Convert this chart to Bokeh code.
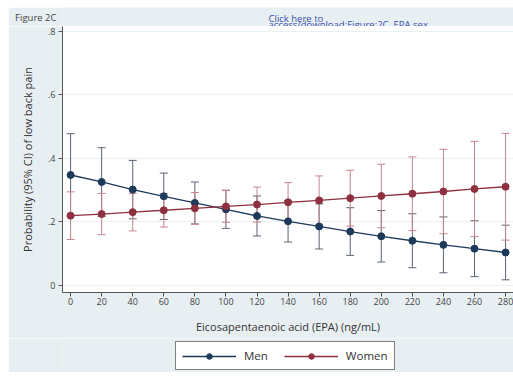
from bokeh.plotting import figure
from bokeh.layouts import column
from bokeh.models import (ColumnDataSource, Whisker, TeeHead, Legend, LegendItem,
                          FixedTicker, Range1d)
from bokeh.core.properties import value
from bokeh.embed import file_html
from bokeh.resources import INLINE

# ---- data ----
epa = [0, 20, 40, 60, 80, 100, 120, 140, 160, 180, 200, 220, 240, 260, 280]
men = [0.348, 0.326, 0.302, 0.281, 0.260, 0.240, 0.219, 0.202, 0.186, 0.170,
       0.155, 0.141, 0.128, 0.116, 0.104]
men_half_ci = [0.130, 0.108, 0.092, 0.073, 0.066, 0.060, 0.063, 0.065, 0.071,
               0.075, 0.081, 0.085, 0.088, 0.088, 0.086]
women = [0.220, 0.225, 0.231, 0.237, 0.243, 0.249, 0.255, 0.262, 0.268, 0.275,
         0.282, 0.289, 0.296, 0.304, 0.311]
women_half_ci = [0.075, 0.065, 0.059, 0.053, 0.050, 0.050, 0.055, 0.062, 0.077,
                 0.088, 0.100, 0.116, 0.133, 0.150, 0.168]
y_ticks = [0, 0.2, 0.4, 0.6, 0.8]
y_tick_labels = ["0", ".2", ".4", ".6", ".8"]
series_names = ["Men", "Women"]
figure_label = "Figure 2C"
link_texts = ["Click here to", "access/download;Figure;2C. EPA sex"]

FONT = "Open Sans"
BG = "#e8eff2"
MEN_C = "#1d3a5a"
WOMEN_C = "#8f3040"
MEN_CI_C = "#5b6473"
WOMEN_CI_C = "#c7848f"
BLUE = "#3d4fb0"


def strip(height, y_range):
    f = figure(width=505, height=height, output_backend="svg", toolbar_location=None,
               x_range=Range1d(0, 451), y_range=y_range,
               x_axis_location=None, min_border=0)
    f.grid.grid_line_color = None
    f.outline_line_color = None
    f.background_fill_color = BG
    f.border_fill_color = BG
    return f


# ---- header strip (caption texts) ----
hdr = strip(19, Range1d(0, 19))
# "Figure 2C" sits left of the plot frame: shown as the strip's single y tick label
hdr.yaxis.ticker = FixedTicker(ticks=[9.5])
hdr.yaxis.major_label_overrides = {9.5: figure_label}
hdr.yaxis.axis_line_color = None
hdr.yaxis.major_tick_line_color = None
hdr.yaxis.minor_tick_line_color = None
hdr.yaxis.major_label_standoff = 0
hdr.yaxis.major_label_text_font = FONT
hdr.yaxis.major_label_text_font_size = "9.5px"
hdr.yaxis.major_label_text_color = "#444444"
hdr_src = ColumnDataSource(dict(x=[206, 206], y=[8.0, 1.8], t=link_texts))
hdr.text("x", "y", text="t", source=hdr_src, text_color=BLUE,
         text_baseline="alphabetic",
         text_font=value(FONT), text_font_size="9.5px")

# ---- main chart ----
p = figure(width=505, height=312, output_backend="svg", toolbar_location=None,
           x_range=Range1d(-5.2, 285.1), y_range=Range1d(-0.022, 0.8156),
           min_border_left=54, min_border_right=0, min_border_top=0,
           min_border_bottom=46)
p.background_fill_color = "white"
p.border_fill_color = BG
p.outline_line_color = None

p.xgrid.grid_line_color = None
p.ygrid.grid_line_color = "#eaf0f2"
p.ygrid.grid_line_width = 1

p.xaxis.ticker = FixedTicker(ticks=epa)
p.yaxis.ticker = FixedTicker(ticks=y_ticks)
p.yaxis.major_label_overrides = {t: l for t, l in zip(y_ticks, y_tick_labels)}
for ax in (p.xaxis[0], p.yaxis[0]):
    ax.axis_line_color = "#555555"
    ax.major_tick_line_color = "#555555"
    ax.major_tick_out = 4
    ax.major_tick_in = 0
    ax.minor_tick_line_color = None
    ax.major_label_text_font = FONT
    ax.major_label_text_font_size = "9px"
    ax.major_label_text_color = "#444444"
    ax.axis_label_text_font = FONT
    ax.axis_label_text_font_size = "11px"
    ax.axis_label_text_font_style = "normal"
    ax.axis_label_text_color = "#333333"
p.xaxis.axis_label = "Eicosapentaenoic acid (EPA) (ng/mL)"
p.yaxis.axis_label = "Probability (95% CI) of low back pain"
p.xaxis.major_label_standoff = 1
p.yaxis.major_label_standoff = 3
p.xaxis.axis_label_standoff = 11
p.yaxis.axis_label_standoff = 10

src_m = ColumnDataSource(dict(x=epa, y=men,
                              lo=[v - h for v, h in zip(men, men_half_ci)],
                              hi=[v + h for v, h in zip(men, men_half_ci)]))
src_w = ColumnDataSource(dict(x=epa, y=women,
                              lo=[v - h for v, h in zip(women, women_half_ci)],
                              hi=[v + h for v, h in zip(women, women_half_ci)]))

for src, c in ((src_m, MEN_CI_C), (src_w, WOMEN_CI_C)):
    w = Whisker(source=src, base="x", lower="lo", upper="hi",
                line_color=c, line_width=1,
                upper_head=TeeHead(size=8, line_color=c, line_width=1),
                lower_head=TeeHead(size=8, line_color=c, line_width=1))
    p.add_layout(w)

p.line("x", "y", source=src_m, line_color=MEN_C, line_width=1.3)
p.scatter("x", "y", source=src_m, size=7, fill_color=MEN_C, line_color=MEN_C)
p.line("x", "y", source=src_w, line_color=WOMEN_C, line_width=1.3)
p.scatter("x", "y", source=src_w, size=7, fill_color=WOMEN_C, line_color=WOMEN_C)

# ---- footer strip holding the legend ----
# the series are attached here only to give the legend its keys; the strip's
# y range lies far above the data, so nothing of them is drawn in it
ftr = strip(34, Range1d(5, 6))
ftr.yaxis.visible = False
items = []
for name, src, c in zip(series_names, (src_m, src_w), (MEN_C, WOMEN_C)):
    r1 = ftr.line("x", "y", source=src, line_color=c, line_width=1.3)
    r2 = ftr.scatter("x", "y", source=src, size=7, fill_color=c, line_color=c)
    items.append(LegendItem(label=name, renderers=[r1, r2]))

legend = Legend(items=items, orientation="horizontal", location=(113, 2),
                label_text_font=FONT, label_text_font_size="11.5px",
                label_text_color="#333333",
                glyph_width=54, glyph_height=14, spacing=16, padding=6,
                margin=0, border_line_color="black", border_line_width=1,
                background_fill_color="white", background_fill_alpha=1,
                label_standoff=8)
ftr.add_layout(legend, "center")

layout = column(hdr, p, ftr, spacing=0, margin=(7, 0, 0, 8))

open("out.html", "w").write(file_html(layout, INLINE))
